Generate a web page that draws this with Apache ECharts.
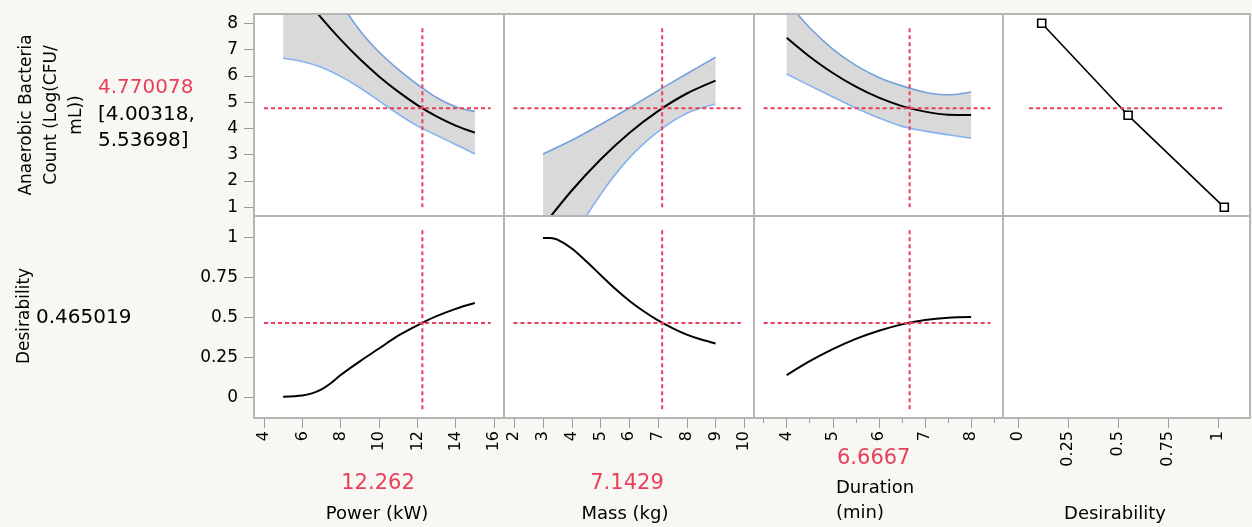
<!DOCTYPE html>
<html>
<head>
<meta charset="utf-8">
<script src="https://cdn.jsdelivr.net/npm/echarts@6/dist/echarts.min.js"></script>
<style>
html,body{margin:0;padding:0;background:#f7f7f3;}
#chart{width:1252px;height:527px;}
</style>
</head>
<body>
<div id="chart"></div>
<script>
// ---------------- DATA ----------------
const powerX     = [5, 6, 7, 8, 9, 10, 11, 12, 13, 14, 15];
const powerPred  = [10.08, 9.10, 8.20, 7.38, 6.64, 5.98, 5.40, 4.89, 4.46, 4.11, 3.84];
const powerLower = [6.67, 6.55, 6.33, 5.98, 5.55, 5.05, 4.55, 4.10, 3.74, 3.39, 3.03];
const powerUpper = [13.49, 11.65, 10.07, 8.78, 7.73, 6.91, 6.25, 5.68, 5.18, 4.83, 4.65];

const massX     = [3, 4, 5, 6, 7, 8, 9];
const massPred  = [0.29, 1.64, 2.82, 3.83, 4.66, 5.33, 5.82];
const massLower = [-2.45, -0.27, 1.49, 2.88, 3.88, 4.58, 4.93];
const massUpper = [3.03, 3.55, 4.15, 4.78, 5.44, 6.08, 6.71];

const durX     = [4, 4.5, 5, 5.5, 6, 6.5, 7, 7.5, 8];
const durPred  = [7.45, 6.73, 6.11, 5.59, 5.17, 4.85, 4.64, 4.52, 4.51];
const durLower = [6.07, 5.63, 5.20, 4.78, 4.40, 4.08, 3.90, 3.76, 3.63];
const durUpper = [8.83, 7.83, 7.02, 6.40, 5.94, 5.62, 5.38, 5.28, 5.39];

const desFnX = [0.117, 0.549, 1.03];
const desFnY = [8, 4.5, 1];

const powerDesX = [5, 6, 6.5, 7, 7.5, 8, 9, 10, 11, 12, 13, 14, 15];
const powerDes  = [0.004, 0.012, 0.025, 0.05, 0.09, 0.14, 0.225, 0.305, 0.385, 0.45, 0.507, 0.553, 0.589];
const massDesX  = [3, 3.25, 3.5, 4, 4.5, 5, 5.5, 6, 6.5, 7, 7.5, 8, 8.5, 9];
const massDes   = [0.995, 0.995, 0.985, 0.93, 0.85, 0.765, 0.68, 0.604, 0.538, 0.481, 0.433, 0.392, 0.361, 0.337];
const durDes    = [0.139, 0.226, 0.301, 0.365, 0.416, 0.456, 0.483, 0.498, 0.502];

const factorCurrent = [12.262, 7.1429, 6.6667];
const factorCurrentText = ['12.262', '7.1429', '6.6667'];
const predCurrent = 4.770078;
const predCIText = ['[4.00318,', '5.53698]'];
const desCurrent = 0.465019;

// crosshair extents (data units)
const hSpanTop = [[4, 15.83], [1.97, 9.88], [3.5, 8.42], [0.054, 1.033]];
const hSpanBot = [[4, 15.83], [1.97, 9.88], [3.5, 8.42]];
const vSpanTop = [1.0, 7.9];
const vSpanBot = [-0.075, 1.056];

// axis ticks
const powerTicks = [4, 6, 8, 10, 12, 14, 16];
const massTicks  = [2, 3, 4, 5, 6, 7, 8, 9, 10];
const durTicks   = [4, 5, 6, 7, 8];
const durMinorTicks = [3.5, 4.5, 5.5, 6.5, 7.5, 8.5];
const desTicks   = [0, 0.25, 0.5, 0.75, 1];
const respTicks  = [1, 2, 3, 4, 5, 6, 7, 8];
const desYTicks  = [0, 0.25, 0.5, 0.75, 1];

// ---------------- LAYOUT ----------------
const cols = [{left:254,width:250},{left:504,width:250},{left:754,width:249},{left:1003,width:247}];
const rows = [{top:14,height:202},{top:216,height:202}];
const xRanges = [[3.478,16.52],[1.642,10.337],[3.291,8.692],[-0.0765,1.1585]];
const yRanges = [[0.67,8.354],[-0.129,1.133]];
const xTickSets = [powerTicks, massTicks, durTicks, desTicks];

const RED = '#ea3f5b';
const FONT = '"DejaVu Sans"';
const tickLine = {color:'#9a9a9a', width:1};

const grids = [], xAxes = [], yAxes = [], series = [], frames = [];
for (let r = 0; r < 2; r++) {
  for (let c = 0; c < 4; c++) {
    grids.push({left:cols[c].left, width:cols[c].width, top:rows[r].top, height:rows[r].height,
      show:true, backgroundColor:'#ffffff', borderWidth:0,
      containLabel:false, outerBoundsMode:'none'});
    frames.push({type:'rect', z:100, silent:true,
      shape:{x:cols[c].left, y:rows[r].top, width:cols[c].width, height:rows[r].height},
      style:{fill:null, stroke:'#b5b5b5', lineWidth:2}});
    const isBottom = r === 1;
    xAxes.push({type:'value', gridIndex:r*4+c, min:xRanges[c][0], max:xRanges[c][1],
      position:'bottom', splitLine:{show:false}, axisLine:{show:false, onZero:false},
      axisTick:{show:isBottom, length:10, lineStyle:tickLine, customValues:xTickSets[c]},
      axisLabel:{show:isBottom, rotate:90, margin:13, color:'#000', fontFamily:FONT, fontSize:16,
        customValues:xTickSets[c]}});
    yAxes.push({type:'value', gridIndex:r*4+c, min:yRanges[r][0], max:yRanges[r][1],
      position:'left', splitLine:{show:false}, axisLine:{show:false, onZero:false},
      axisTick:{show:c===0, length:10, lineStyle:tickLine, customValues: r===0?respTicks:desYTicks},
      axisLabel:{show:c===0, margin:16, color:'#000', fontFamily:FONT, fontSize:17,
        customValues: r===0?respTicks:desYTicks}});
  }
}
// minor ticks for duration axis (bottom row, column 3)
xAxes.push({type:'value', gridIndex:6, min:xRanges[2][0], max:xRanges[2][1], position:'bottom',
  splitLine:{show:false}, axisLine:{show:false, onZero:false}, axisLabel:{show:false},
  axisTick:{show:true, length:5, lineStyle:tickLine, customValues:durMinorTicks}});

const pairs = (xs, ys) => xs.map((x, i) => [x, ys[i]]);
const BLUE_UP = '#74a0de', BLUE_LO = '#86b2f2';

// Confidence band: rows are [y, x] so the y column is the one that gets stacked.
function band(gi, xs, lo, up, key) {
  series.push({type:'line', xAxisIndex:gi, yAxisIndex:gi, encode:{x:1, y:0},
    data:xs.map((x, i) => [lo[i], x]), stack:key, stackStrategy:'all',
    symbol:'none', smooth:0.3, lineStyle:{color:BLUE_LO, width:1.6}, z:3, silent:true});
  series.push({type:'line', xAxisIndex:gi, yAxisIndex:gi, encode:{x:1, y:0},
    data:xs.map((x, i) => [up[i] - lo[i], x]), stack:key, stackStrategy:'all',
    symbol:'none', smooth:0.3, lineStyle:{color:BLUE_UP, width:1.6},
    areaStyle:{color:'#d9d9d9', opacity:1}, z:2, silent:true});
}
function curve(gi, xs, ys) {
  series.push({type:'line', xAxisIndex:gi, yAxisIndex:gi, data:pairs(xs, ys), symbol:'none', smooth:0.3,
    lineStyle:{color:'#000', width:2}, z:4, silent:true});
}
function dashed(gi, pts) {
  series.push({type:'line', xAxisIndex:gi, yAxisIndex:gi, data:pts, symbol:'none',
    lineStyle:{color:RED, width:2, type:[4,3]}, z:6, silent:true});
}

band(0, powerX, powerLower, powerUpper, 'bp');
band(1, massX, massLower, massUpper, 'bm');
band(2, durX, durLower, durUpper, 'bd');
curve(0, powerX, powerPred);
curve(1, massX, massPred);
curve(2, durX, durPred);
curve(4, powerDesX, powerDes);
curve(5, massDesX, massDes);
curve(6, durX, durDes);

series.push({type:'line', xAxisIndex:3, yAxisIndex:3, data:pairs(desFnX, desFnY),
  symbol:'rect', symbolSize:8, lineStyle:{color:'#000', width:1.6},
  itemStyle:{color:'#fff', borderColor:'#000', borderWidth:1.6}, z:5, silent:true});

for (let c = 0; c < 3; c++) {
  dashed(c, [[hSpanTop[c][0], predCurrent], [hSpanTop[c][1], predCurrent]]);
  dashed(c, [[factorCurrent[c], vSpanTop[0]], [factorCurrent[c], vSpanTop[1]]]);
  dashed(4+c, [[hSpanBot[c][0], desCurrent], [hSpanBot[c][1], desCurrent]]);
  dashed(4+c, [[factorCurrent[c], vSpanBot[0]], [factorCurrent[c], vSpanBot[1]]]);
}
dashed(3, [[hSpanTop[3][0], predCurrent], [hSpanTop[3][1], predCurrent]]);

// ---------------- TEXT ----------------
const txt = (x, y, text, size, color, align) => ({type:'text', x, y, silent:true,
  style:{text, font:size+'px '+FONT, fill:color, textAlign:align||'left', textVerticalAlign:'middle'}});

const graphic = frames.concat([
  {type:'text', x:52, y:115, rotation:Math.PI/2, silent:true,
   style:{text:'Anaerobic Bacteria\nCount (Log(CFU/\nmL))', font:'17px '+FONT, fill:'#000',
     textAlign:'center', textVerticalAlign:'middle', lineHeight:25}},
  txt(98, 88, String(predCurrent), 20, RED),
  txt(98, 115, predCIText[0], 20, '#000'),
  txt(98, 141, predCIText[1], 20, '#000'),
  {type:'text', x:25, y:316, rotation:Math.PI/2, silent:true,
   style:{text:'Desirability', font:'17px '+FONT, fill:'#000', textAlign:'center', textVerticalAlign:'middle'}},
  txt(36, 318, String(desCurrent), 20, '#000'),
  txt(378, 484, factorCurrentText[0], 21, RED, 'center'),
  txt(377, 514, 'Power (kW)', 18, '#000', 'center'),
  txt(627, 484, factorCurrentText[1], 21, RED, 'center'),
  txt(625, 514, 'Mass (kg)', 18, '#000', 'center'),
  txt(837, 459, factorCurrentText[2], 21, RED),
  txt(836, 488, 'Duration', 18, '#000'),
  txt(836, 513, '(min)', 18, '#000'),
  txt(1115, 514, 'Desirability', 18, '#000', 'center')
]);

const chart = echarts.init(document.getElementById('chart'), null, {renderer:'canvas'});
chart.setOption({
  animation:false,
  backgroundColor:'#f7f7f3',
  grid:grids, xAxis:xAxes, yAxis:yAxes, series, graphic
});
</script>
</body>
</html>
